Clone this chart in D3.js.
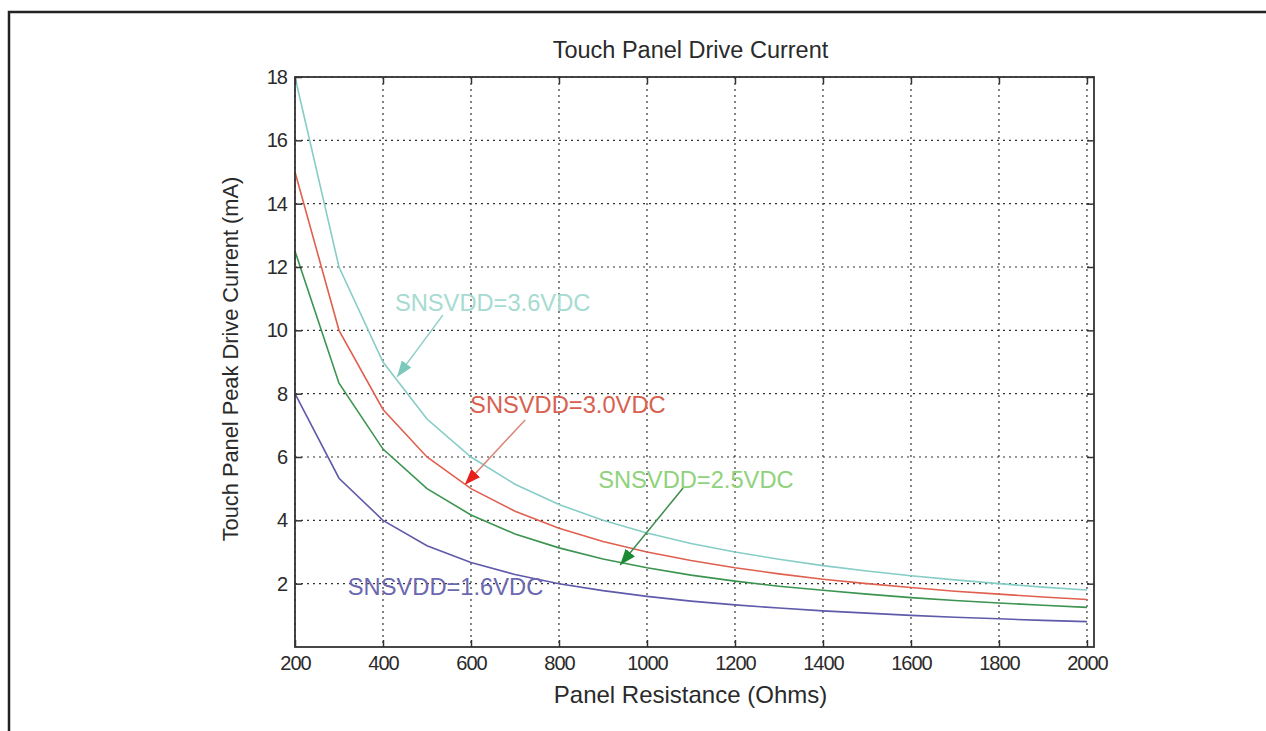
<!DOCTYPE html>
<html>
<head>
<meta charset="utf-8">
<script src="https://cdn.jsdelivr.net/npm/d3@7/dist/d3.min.js"></script>
<style>
    body { margin: 0; background: #fff; }
    svg { display: block; font-family: "Liberation Sans", Arial, sans-serif; }
</style>
</head>
<body>
<svg id="chart"></svg>
<script>
// panel resistance (Ohms) and peak drive current (mA)
const resistance = [200, 300, 400, 500, 600, 700, 800, 900, 1000, 1100, 1200, 1300, 1400, 1500, 1600, 1700, 1800, 1900, 2000];
const current36 = [18, 12, 9, 7.2, 6, 5.14, 4.5, 4, 3.6, 3.27, 3, 2.77, 2.57, 2.4, 2.25, 2.12, 2, 1.89, 1.8];
const current30 = [15, 10, 7.5, 6, 5, 4.29, 3.75, 3.33, 3, 2.73, 2.5, 2.31, 2.14, 2, 1.88, 1.76, 1.67, 1.58, 1.5];
const current25 = [12.5, 8.33, 6.25, 5, 4.17, 3.57, 3.13, 2.78, 2.5, 2.27, 2.08, 1.92, 1.79, 1.67, 1.56, 1.47, 1.39, 1.32, 1.25];
const current16 = [8, 5.33, 4, 3.2, 2.67, 2.29, 2, 1.78, 1.6, 1.45, 1.33, 1.23, 1.14, 1.07, 1, 0.94, 0.89, 0.84, 0.8];

const xTicks = [200, 400, 600, 800, 1000, 1200, 1400, 1600, 1800, 2000];
const yTicks = [2, 4, 6, 8, 10, 12, 14, 16, 18];

const seriesNames = ['SNSVDD=3.6VDC', 'SNSVDD=3.0VDC', 'SNSVDD=2.5VDC', 'SNSVDD=1.6VDC'];
const seriesValues = [current36, current30, current25, current16];
const seriesColors = ['#86cdc6', '#e0604f', '#3b9450', '#5f5aaa'];

// label anchors and arrows, in data units (null = no arrow)
const notes = [
    { text: seriesNames[0], x: 427, y: 10.86, from: [536, 10.48], to: [432, 8.53], color: '#a6dbd1', line: '#8ccfc6', head: '#7cc8bd' },
    { text: seriesNames[1], x: 598, y: 7.64, from: [723, 7.17], to: [586, 5.12], color: '#d8604f', line: '#d88878', head: '#e8201c' },
    { text: seriesNames[2], x: 889, y: 5.27, from: [1082, 5.02], to: [939, 2.59], color: '#8fd27c', line: '#3d8a4c', head: '#1c8a32' },
    { text: seriesNames[3], x: 320, y: 1.89, from: null, to: null, color: '#6b68b0' }
];

const width = 1266;
const height = 731;
const plotLeft = 295, plotRight = 1094, plotTop = 77, plotBottom = 647;

const xScale = d3.scaleLinear().domain([200, 2016]).range([plotLeft, plotRight]);
const yScale = d3.scaleLinear().domain([0, 18]).range([plotBottom, plotTop]);

const svg = d3.select('#chart').attr('width', width).attr('height', height);

// outer frame, cut off at the right and bottom edges
svg.append('path')
    .attr('d', `M9,${height + 2} L9,12 L${width + 2},12`)
    .attr('fill', 'none')
    .attr('stroke', '#222')
    .attr('stroke-width', 2.5);

// dotted grid
const grid = svg.append('g').attr('stroke', '#333').attr('stroke-width', 1.2).attr('stroke-dasharray', '2,4');
grid.selectAll('.gx').data(xTicks).enter().append('line')
    .attr('x1', d => xScale(d)).attr('x2', d => xScale(d))
    .attr('y1', plotTop).attr('y2', plotBottom);
grid.selectAll('.gy').data(yTicks).enter().append('line')
    .attr('x1', plotLeft).attr('x2', plotRight)
    .attr('y1', d => yScale(d)).attr('y2', d => yScale(d));

// curves
const line = d3.line()
    .x((d, i) => xScale(resistance[i]))
    .y(d => yScale(d));

svg.selectAll('.curve').data(seriesValues).enter().append('path')
    .attr('class', 'curve')
    .attr('d', d => line(d))
    .attr('fill', 'none')
    .attr('stroke', (d, i) => seriesColors[i])
    .attr('stroke-width', 1.6);

// axes, ticks pointing inward like matlab
function styleAxis(g) {
    g.select('.domain').remove();
    g.selectAll('.tick line').attr('stroke', '#333').attr('stroke-width', 1.5);
    g.selectAll('.tick text')
        .attr('fill', '#2a2a2a')
        .style('font-size', '20px')
        .style('letter-spacing', '-1px');
}

svg.append('g')
    .attr('transform', `translate(0,${plotBottom})`)
    .call(d3.axisBottom(xScale).tickValues(xTicks).tickSize(-7).tickPadding(9).tickFormat(d3.format('d')))
    .call(styleAxis);

svg.append('g')
    .attr('transform', `translate(0,${plotTop})`)
    .call(d3.axisTop(xScale).tickValues(xTicks).tickSize(-7).tickFormat(''))
    .call(styleAxis);

svg.append('g')
    .attr('transform', `translate(${plotLeft},0)`)
    .call(d3.axisLeft(yScale).tickValues(yTicks).tickSize(-7).tickPadding(8))
    .call(styleAxis);

svg.append('g')
    .attr('transform', `translate(${plotRight},0)`)
    .call(d3.axisRight(yScale).tickValues(yTicks).tickSize(-7).tickFormat(''))
    .call(styleAxis);

svg.append('rect')
    .attr('x', plotLeft).attr('y', plotTop)
    .attr('width', plotRight - plotLeft).attr('height', plotBottom - plotTop)
    .attr('fill', 'none')
    .attr('stroke', '#333')
    .attr('stroke-width', 1.8);

// titles
svg.append('text')
    .attr('x', (plotLeft + plotRight) / 2 - 4).attr('y', 58)
    .attr('text-anchor', 'middle')
    .attr('fill', '#2a2a2a')
    .style('font-size', '23.5px')
    .text('Touch Panel Drive Current');

svg.append('text')
    .attr('x', (plotLeft + plotRight) / 2 - 4).attr('y', 703)
    .attr('text-anchor', 'middle')
    .attr('fill', '#2a2a2a')
    .style('font-size', '24px')
    .text('Panel Resistance (Ohms)');

svg.append('text')
    .attr('transform', `translate(238,${(plotTop + plotBottom) / 2 - 3}) rotate(-90)`)
    .attr('text-anchor', 'middle')
    .attr('fill', '#2a2a2a')
    .style('font-size', '21.8px')
    .text('Touch Panel Peak Drive Current (mA)');

// annotations with arrows
const defs = svg.append('defs');
notes.forEach((n, i) => {
    if (!n.from) return;
    defs.append('marker')
        .attr('id', 'head' + i)
        .attr('markerUnits', 'userSpaceOnUse')
        .attr('markerWidth', 16).attr('markerHeight', 12)
        .attr('refX', 16).attr('refY', 6)
        .attr('orient', 'auto')
        .append('path')
        .attr('d', 'M0,0 L16,6 L0,12 Z')
        .attr('fill', n.head);

    svg.append('line')
        .attr('x1', xScale(n.from[0])).attr('y1', yScale(n.from[1]))
        .attr('x2', xScale(n.to[0])).attr('y2', yScale(n.to[1]))
        .attr('stroke', n.line)
        .attr('stroke-width', 1.5)
        .attr('marker-end', `url(#head${i})`);
});

svg.selectAll('.note').data(notes).enter().append('text')
    .attr('class', 'note')
    .attr('x', d => xScale(d.x))
    .attr('y', d => yScale(d.y))
    .attr('dy', '0.35em')
    .attr('fill', d => d.color)
    .style('font-size', '23.7px')
    .text(d => d.text);
</script>
</body>
</html>
